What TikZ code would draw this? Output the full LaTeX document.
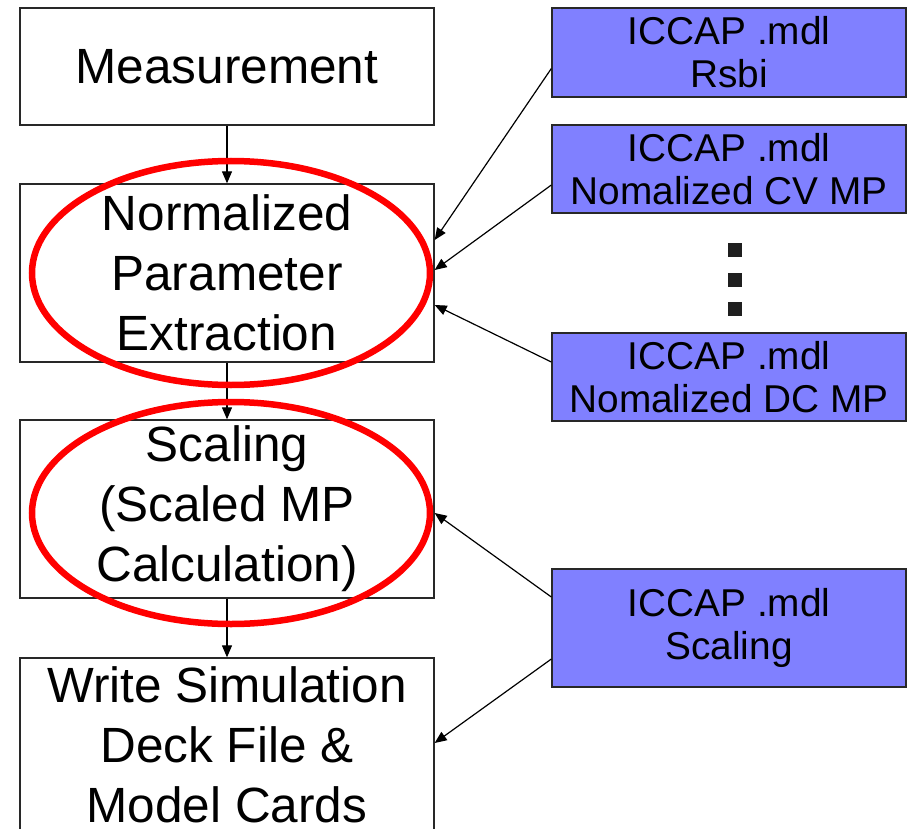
\documentclass[tikz,border=0pt]{standalone}
\usepackage{fontspec}
\setmainfont{Liberation Sans}
\usepackage{xcolor}
\usepackage{tikz}
\usetikzlibrary{arrows.meta,positioning,calc}
\definecolor{mdlblue}{RGB}{128,128,255}
\definecolor{ringred}{RGB}{255,0,0}
\definecolor{edgegray}{RGB}{40,40,40}

\begin{document}
\begin{tikzpicture}[x=1pt, y=-1pt,
    flowbox/.style={draw=edgegray, line width=1.3pt, fill=white, minimum width=414pt,
      inner sep=0pt, align=center, font=\fontsize{49.5}{60}\selectfont},
    mdlbox/.style={draw=edgegray, line width=1.3pt, fill=mdlblue, minimum width=354pt,
      inner sep=0pt, align=center, font=\fontsize{38.8}{43}\selectfont},
    conn/.style={-{Triangle[length=12pt, width=10pt]}, line width=1.2pt},
    ring/.style={draw=ringred, line width=6.5pt},
    dotsq/.style={fill=black!88, minimum size=14pt, inner sep=0pt}]
    \useasboundingbox (0,0) rectangle (912,829);

    % Flow boxes
    \node[flowbox, minimum height=117pt] (meas) at (227,66.5) {Measurement};
    \node[flowbox, minimum height=178pt] (norm) at (227,273) {Normalized\\Parameter\\Extraction};
    \node[flowbox, minimum height=178pt] (scal) at (227,509) {Scaling\\(Scaled MP\\Calculation)};
    \node[flowbox, minimum height=174pt] (deck) at (227,745) {Write Simulation\\Deck File \&\\Model Cards};

    % ICCAP model files
    \node[mdlbox, minimum height=89pt] (rsbi) at (729,52.5) {ICCAP .mdl\\Rsbi};
    \node[mdlbox, minimum height=88pt] (cvmp) at (729,169) {ICCAP .mdl\\Nomalized CV MP};
    \node[mdlbox, minimum height=88pt] (dcmp) at (729,377) {ICCAP .mdl\\Nomalized DC MP};
    \node[mdlbox, minimum height=118pt] (scmdl) at (729,628) {ICCAP .mdl\\Scaling};

    % Dots between the files
    \foreach \y/\n in {250/a, 280/b, 309/c}
        \node[dotsq] (dot\n) at (735,\y) {};

    % Flow arrows
    \draw[conn] (meas) -- (norm);
    \draw[conn] (norm) -- (scal);
    \draw[conn] (scal) -- (deck);

    % Inputs
    \draw[conn] ([yshift=-16pt]rsbi.west) -- ([yshift=33pt]norm.east);
    \draw[conn] ([yshift=-16pt]cvmp.west) -- ([yshift=3pt]norm.east);
    \draw[conn] ([yshift=15pt]dcmp.west) -- ([yshift=-32pt]norm.east);
    \draw[conn] ([yshift=31pt]scmdl.west) -- ([yshift=-4pt]scal.east);
    \draw[conn] ([yshift=-31pt]scmdl.west) -- ([yshift=2pt]deck.east);

    % Highlight rings
    \draw[ring] ([xshift=4pt]norm.center) ellipse (199 and 112);
    \draw[ring] ([xshift=4pt,yshift=-4pt]scal.center) ellipse (199 and 111);
\end{tikzpicture}
\end{document}
